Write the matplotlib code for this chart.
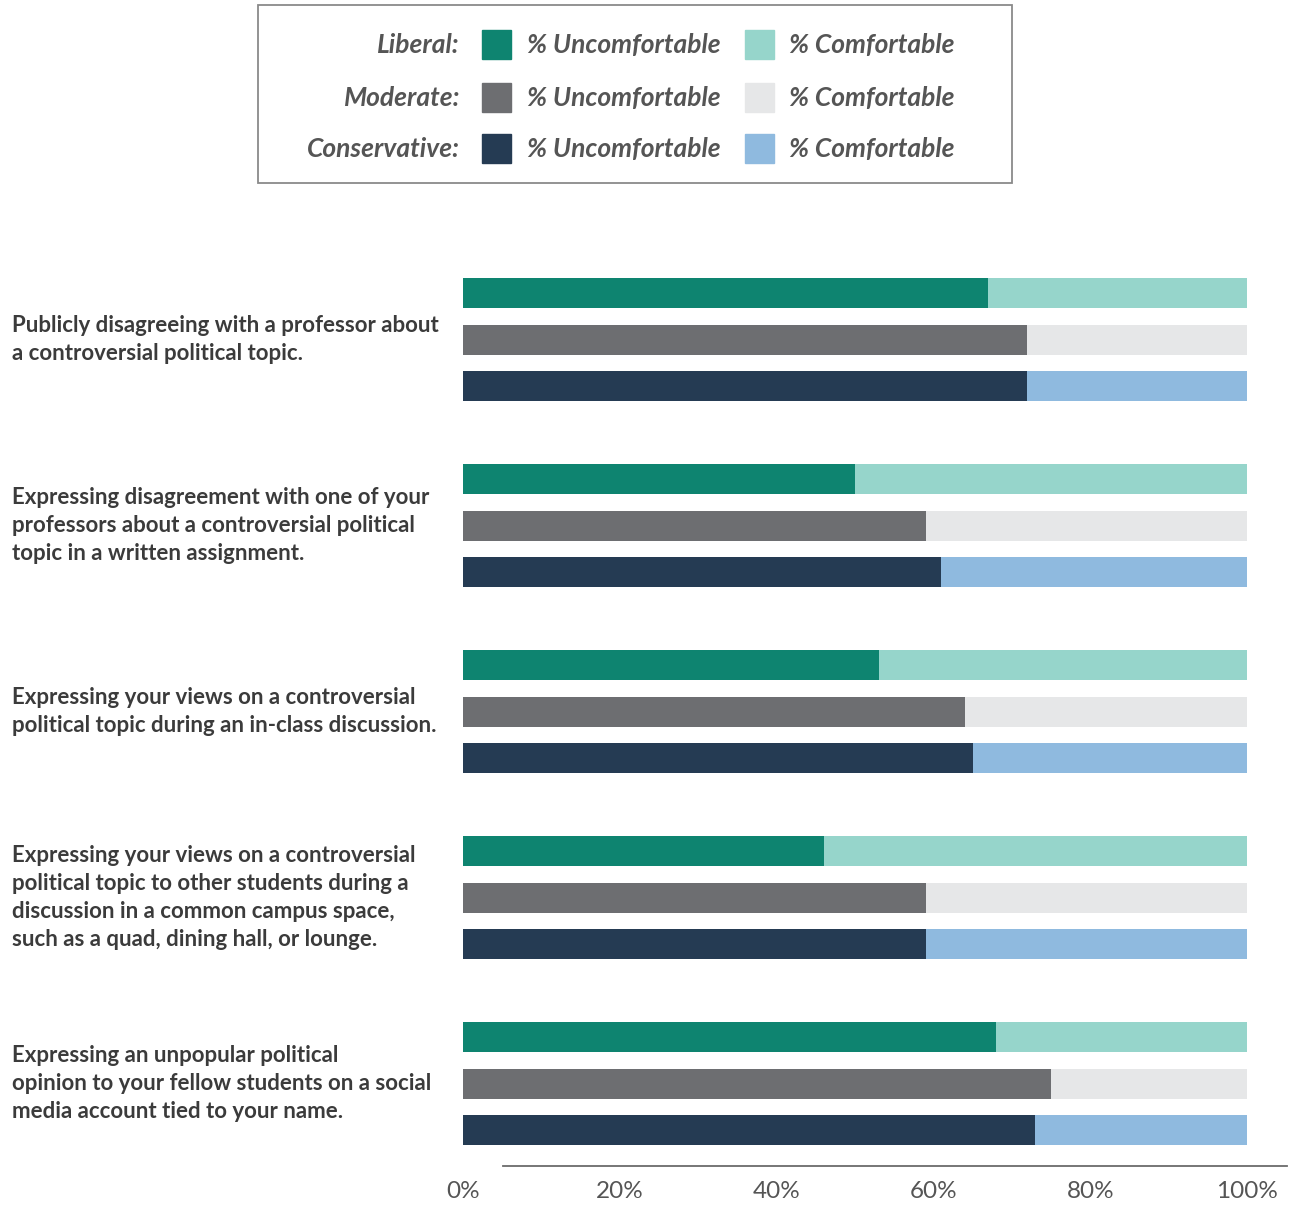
import matplotlib
matplotlib.use("Agg")
import matplotlib.pyplot as plt
from matplotlib.patches import Rectangle
import matplotlib.transforms as mtransforms

questions = [
    "Publicly disagreeing with a professor about\na controversial political topic.",
    "Expressing disagreement with one of your\nprofessors about a controversial political\ntopic in a written assignment.",
    "Expressing your views on a controversial\npolitical topic during an in-class discussion.",
    "Expressing your views on a controversial\npolitical topic to other students during a\ndiscussion in a common campus space,\nsuch as a quad, dining hall, or lounge.",
    "Expressing an unpopular political\nopinion to your fellow students on a social\nmedia account tied to your name.",
]
groups = ["Liberal", "Moderate", "Conservative"]
liberal_unc = [67, 50, 53, 46, 68]
moderate_unc = [72, 59, 64, 59, 75]
conservative_unc = [72, 61, 65, 59, 73]
xticks = [0, 20, 40, 60, 80, 100]

unc_colors = ["#0e8470", "#6d6e71", "#253b53"]
com_colors = ["#96d5cb", "#e6e7e8", "#8fbadf"]
text_color = "#3b3b3b"
legend_text = "#555555"

W, H = 1291, 1209
fig = plt.figure(figsize=(W / 100, H / 100), dpi=100)

# main axes: 0% at x=463px, 100% at 1247px, bottom line at y=1166px
ax = fig.add_axes([463 / W, 1 - 1166 / H, (1247 - 463) / W, (1166 - 250) / H])
ax.set_xlim(0, 100)
ax.set_ylim(18.77, -0.925)

series = [liberal_unc, moderate_unc, conservative_unc]
for g in range(len(questions)):
    for k, vals in enumerate(series):
        y = g * 4 + k
        ax.barh(y, vals[g], height=0.645, color=unc_colors[k], edgecolor="none")
        ax.barh(y, 100 - vals[g], left=vals[g], height=0.645,
                color=com_colors[k], edgecolor="none")

trans = mtransforms.blended_transform_factory(fig.transFigure, ax.transData)
for g, q in enumerate(questions):
    ax.text(12 / W, g * 4 + 1, q, transform=trans, ha="left", va="center",
            fontsize=16, fontweight="bold", family="Lato", color=text_color,
            linespacing=1.42)

for s in ["top", "right", "left"]:
    ax.spines[s].set_visible(False)
ax.spines["bottom"].set_bounds(5.1, 105.1)
ax.spines["bottom"].set_color("#6b6b6b")
ax.spines["bottom"].set_linewidth(1.3)
ax.set_yticks([])
ax.set_xticks(xticks)
ax.set_xticklabels([f"{t}%" for t in xticks], family="Lato", fontsize=17.5,
                   color=legend_text)
ax.tick_params(axis="x", length=0, pad=11)

# legend box
lax = fig.add_axes([0, 0, 1, 1])
lax.set_xlim(0, W)
lax.set_ylim(H, 0)
lax.axis("off")
lax.add_patch(Rectangle((258, 5), 754, 178, fill=False, edgecolor="#8a8a8a", lw=1.3))
row_y = [45, 98, 149]
for i, name in enumerate(groups):
    y = row_y[i]
    lax.text(460, y, name + ":", ha="right", va="center", fontsize=19,
             family="Lato", style="italic", fontweight="bold", color=legend_text)
    lax.add_patch(Rectangle((482, y - 15), 29, 29, color=unc_colors[i]))
    lax.text(527, y, "% Uncomfortable", ha="left", va="center", fontsize=19,
             family="Lato", style="italic", fontweight="bold", color=legend_text)
    lax.add_patch(Rectangle((745, y - 15), 29, 29, color=com_colors[i]))
    lax.text(789, y, "% Comfortable", ha="left", va="center", fontsize=19,
             family="Lato", style="italic", fontweight="bold", color=legend_text)

fig.savefig("out.png", dpi=100)
